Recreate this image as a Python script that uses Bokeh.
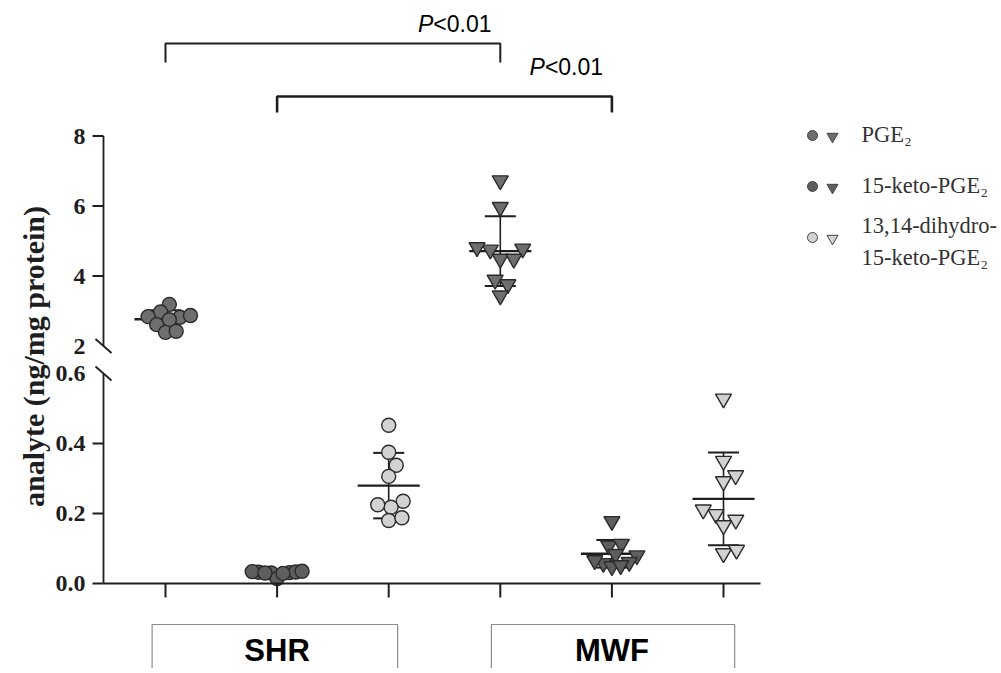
import math
from bokeh.plotting import figure
from bokeh.models import Range1d, ColumnDataSource
from bokeh.core.properties import value
from bokeh.embed import file_html
from bokeh.resources import INLINE

# ---------------- data ----------------
strains = ["SHR", "MWF"]
legend_names = ["PGE\u2082", "15-keto-PGE\u2082", "13,14-dihydro-", "15-keto-PGE\u2082"]
axis_title = "analyte (ng/mg protein)"
p_text = "<0.01"

shr_pge2 = [3.19, 2.97, 2.82, 2.75, 2.84, 2.87, 2.61, 2.39, 2.42]
shr_keto = [0.031, 0.033, 0.035, 0.030, 0.014, 0.032, 0.029, 0.034, 0.030]
shr_dihydro = [0.452, 0.375, 0.338, 0.306, 0.235, 0.218, 0.225, 0.180, 0.188]
mwf_pge2 = [6.73, 5.97, 4.75, 4.78, 4.82, 4.49, 4.49, 3.89, 3.76, 3.44]
mwf_keto = [0.178, 0.108, 0.113, 0.084, 0.080, 0.058, 0.061, 0.049, 0.066, 0.052]
mwf_dihydro = [0.528, 0.350, 0.292, 0.309, 0.198, 0.211, 0.182, 0.166, 0.086, 0.096]

lower_ticks = [0.0, 0.2, 0.4, 0.6]
lower_labels = ["0.0", "0.2", "0.4", "0.6"]
upper_ticks = [2, 4, 6, 8]
upper_labels = ["2", "4", "6", "8"]

# comparisons (group index pairs, 1-based)
comparisons = [(1, 4), (2, 5)]

# ---------------- layout / style ----------------
W, H = 1000, 668
PAGE_L, PAGE_T = 0, 0
PAGE_R, PAGE_B = PAGE_L + W, PAGE_T + H
GX = 111.6            # px between groups
G1 = 165.0            # page x of group 1
LO_PX, LO_ZERO = 350.0, 583.0     # lower segment: px per unit, page y of 0
UP_PX, UP_TWO = 35.0, 345.5       # upper segment: px per unit, page y of 2
AX_X = 103.0          # page x of y-axis line

DARK = "#6e6e6e"
DARK2 = "#5e5e5e"
LIGHT = "#d2d2d2"
EDGE = "#2a2a2a"
INK = "#1e1e1e"

x0 = 1 - (G1 - PAGE_L) / GX
p = figure(width=W, height=H,
           x_range=Range1d(x0, x0 + W / GX),
           y_range=Range1d(-(PAGE_B - LO_ZERO) / LO_PX, (LO_ZERO - PAGE_T) / LO_PX),
           x_axis_type=None, y_axis_type=None,
           toolbar_location=None, output_backend="svg", min_border=0)
p.outline_line_color = None
p.background_fill_color = "white"
p.border_fill_color = "white"
p.extra_x_ranges = {"page": Range1d(PAGE_L, PAGE_R)}
p.extra_y_ranges = {
    "page": Range1d(PAGE_B, PAGE_T),
    "upper": Range1d(2 - (PAGE_B - UP_TWO) / UP_PX, 2 + (UP_TWO - PAGE_T) / UP_PX),
}


def swarm(vals, px_per_unit, diam, limit):
    ys = [v * px_per_unit for v in vals]
    order = sorted(range(len(vals)), key=lambda i: ys[i])
    placed = []
    offs = [0.0] * len(vals)
    for i in order:
        y = ys[i]
        cands = [0.0]
        for (qx, qy) in placed:
            dy = y - qy
            if abs(dy) < diam:
                dx = math.sqrt(diam ** 2 - dy ** 2)
                cands += [qx + dx, qx - dx]
        cands.sort(key=lambda c: (abs(c), -c))
        chosen = cands[-1]
        for c in cands:
            if all((c - qx) ** 2 + (y - qy) ** 2 >= diam ** 2 - 1e-6 for qx, qy in placed):
                chosen = c
                break
        offs[i] = chosen
        placed.append((chosen, y))
    m = max(abs(o) for o in offs) or 1.0
    if m > limit:
        offs = [o * limit / m for o in offs]
    return [o / GX for o in offs]


groups = [
    # (values, position, upper?, marker, fill)
    (shr_pge2, 1, True, "circle", DARK),
    (shr_keto, 2, False, "circle", DARK2),
    (shr_dihydro, 3, False, "circle", LIGHT),
    (mwf_pge2, 4, True, "inverted_triangle", DARK),
    (mwf_keto, 5, False, "inverted_triangle", DARK2),
    (mwf_dihydro, 6, False, "inverted_triangle", LIGHT),
]

# mean +/- SD bars (drawn first, behind points)
for vals, pos, up, marker, fill in groups:
    n = len(vals)
    m = sum(vals) / n
    sd = math.sqrt(sum((v - m) ** 2 for v in vals) / (n - 1))
    rn = "upper" if up else "default"
    p.segment(x0=[pos, pos - 0.139, pos - 0.139, pos - 0.278],
              y0=[m - sd, m + sd, m - sd, m],
              x1=[pos, pos + 0.139, pos + 0.139, pos + 0.278],
              y1=[m + sd, m + sd, m - sd, m],
              line_color=INK, line_width=[1.6, 2, 2, 2.4], y_range_name=rn)

# points
for vals, pos, up, marker, fill in groups:
    px = UP_PX if up else LO_PX
    size = 14 if marker == "circle" else 16
    offs = swarm(vals, px, 13.5, 25.0)
    src = ColumnDataSource(dict(x=[pos + o for o in offs], y=vals))
    p.scatter("x", "y", source=src, marker=marker, size=size,
              fill_color=fill, line_color=EDGE, line_width=1.4,
              y_range_name="upper" if up else "default")

# ---------------- y axis (broken) ----------------
p.segment(x0=[AX_X], y0=[0], x1=[AX_X], y1=[0.6], x_range_name="page",
          line_color=INK, line_width=1.8)
p.segment(x0=[AX_X], y0=[2], x1=[AX_X], y1=[8], x_range_name="page",
          y_range_name="upper", line_color=INK, line_width=1.8)
# ticks
p.segment(x0=[AX_X - 11] * 3, y0=lower_ticks[:3], x1=[AX_X] * 3, y1=lower_ticks[:3],
          x_range_name="page", line_color=INK, line_width=1.8)
p.segment(x0=[AX_X - 11] * 3, y0=upper_ticks[1:], x1=[AX_X] * 3, y1=upper_ticks[1:],
          x_range_name="page", y_range_name="upper", line_color=INK, line_width=1.8)
# break marks
p.segment(x0=[AX_X - 8, AX_X - 8], y0=[UP_TWO - 7, LO_ZERO - 0.6 * LO_PX - 7],
          x1=[AX_X + 8, AX_X + 8], y1=[UP_TWO + 7, LO_ZERO - 0.6 * LO_PX + 7],
          x_range_name="page", y_range_name="page", line_color=INK, line_width=1.8)

TICK_FONT = value("Liberation Serif")
p.text(x=[AX_X - 18] * 4, y=lower_ticks, text=lower_labels, x_range_name="page",
       text_align="right", text_baseline="middle", text_font=TICK_FONT,
       text_font_style="bold", text_font_size="24px", text_color=INK)
p.text(x=[AX_X - 18] * 4, y=upper_ticks, text=upper_labels, x_range_name="page",
       y_range_name="upper", text_align="right", text_baseline="middle",
       text_font=TICK_FONT, text_font_style="bold", text_font_size="24px", text_color=INK)

p.text(x=[33], y=[356], text=[axis_title], angle=math.pi / 2,
       x_range_name="page", y_range_name="page", text_align="center",
       text_baseline="middle", text_font=TICK_FONT, text_font_style="bold",
       text_font_size="30px", text_color=INK)

# ---------------- x axis ----------------
p.segment(x0=[AX_X], y0=[0], x1=[760], y1=[0], x_range_name="page",
          line_color=INK, line_width=1.8)
positions = [g[1] for g in groups]
p.segment(x0=positions, y0=[LO_ZERO] * 6, x1=positions, y1=[LO_ZERO + 14] * 6,
          y_range_name="page", line_color=INK, line_width=2)

# strain boxes
p.quad(left=[1 - 0.12, 4 - 0.08], right=[3 + 0.08, 6 + 0.1],
       top=[624, 624], bottom=[700, 700], y_range_name="page",
       fill_color=None, line_color="#8c8c8c", line_width=1.2)
p.text(x=[2, 5], y=[650, 650], text=strains, y_range_name="page",
       text_align="center", text_baseline="middle",
       text_font=value("Liberation Sans"), text_font_style="bold",
       text_font_size="31px", text_color="black")

# ---------------- significance brackets ----------------
br_top = [43, 96]
br_bot = [62, 112]
br_w = [2, 2.6]
for (a, b), t, bt, lw in zip(comparisons, br_top, br_bot, br_w):
    p.multi_line(xs=[[a, a, b, b]], ys=[[bt, t, t, bt]], y_range_name="page",
                 line_color=INK, line_width=lw)
    xp = b - 67 / GX
    yp = t - 20 if t < 60 else t - 30
    p.text(x=[xp], y=[yp], text=["P"], y_range_name="page", text_align="right",
           text_baseline="middle", text_font=value("Liberation Sans"),
           text_font_style="italic", text_font_size="23px", text_color="black")
    p.text(x=[xp], y=[yp], text=[p_text], y_range_name="page", text_align="left",
           text_baseline="middle", text_font=value("Liberation Sans"),
           text_font_size="23px", text_color="black")

# ---------------- legend ----------------
leg_y = [135, 186, 237]
leg_fill = [DARK, DARK2, LIGHT]
p.scatter(x=[812] * 3, y=leg_y, marker="circle", size=10, fill_color=leg_fill,
          line_color="#444444", line_width=1, x_range_name="page", y_range_name="page")
p.scatter(x=[832] * 3, y=[y + 1 for y in leg_y], marker="inverted_triangle", size=11,
          fill_color=leg_fill, line_color="#444444", line_width=1,
          x_range_name="page", y_range_name="page")
p.text(x=[861] * 4, y=[134, 185, 225, 257], text=legend_names,
       x_range_name="page", y_range_name="page", text_align="left",
       text_baseline="middle", text_font=value("Liberation Serif"),
       text_font_size="22.5px", text_color="#333333")

open("out.html", "w").write(file_html(p, INLINE))
